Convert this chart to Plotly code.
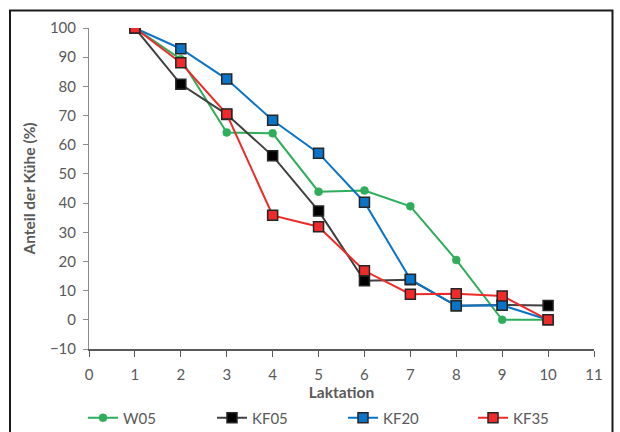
import plotly.graph_objects as go

laktation = [1, 2, 3, 4, 5, 6, 7, 8, 9, 10]
w05 = [100, 89.3, 64.2, 63.9, 43.9, 44.3, 38.9, 20.5, 0, 0]
kf05 = [100, 80.7, 70.4, 56.2, 37.3, 13.4, 13.7, 4.8, 5.1, 4.9]
kf20 = [100, 92.9, 82.5, 68.4, 57.1, 40.3, 13.9, 4.8, 5.0, 0]
kf35 = [100, 88.1, 70.5, 35.8, 31.9, 16.8, 8.8, 8.9, 8.2, 0]

W, H = 620, 432
L, R, T, B = 89, 26, 28, 83
pw, ph = W - L - R, H - T - B

fig = go.Figure()

square = dict(symbol="square", size=10, line=dict(color="#262626", width=1.5))

fig.add_trace(go.Scatter(
    x=laktation, y=w05, name="W05", mode="lines+markers", legend="legend",
    line=dict(color="#2EAD5B", width=2),
    marker=dict(symbol="circle", size=8, color="#2EAD5B",
                line=dict(color="#2EAD5B", width=0.5))))
fig.add_trace(go.Scatter(
    x=laktation, y=kf05, name="KF05", mode="lines+markers", legend="legend2",
    line=dict(color="#404040", width=2),
    marker=dict(color="#000000", **square)))
fig.add_trace(go.Scatter(
    x=laktation, y=kf20, name="KF20", mode="lines+markers", legend="legend3",
    line=dict(color="#0A74C8", width=2),
    marker=dict(color="#0A74C8", **square)))
fig.add_trace(go.Scatter(
    x=laktation, y=kf35, name="KF35", mode="lines+markers", legend="legend4",
    line=dict(color="#EE2A2A", width=2),
    marker=dict(color="#EE2A2A", **square)))

def px_x(p):
    return (p - L) / pw

def px_y(p):
    return (H - B - p) / ph

# outer frame around the whole chart
fig.add_shape(type="rect", xref="paper", yref="paper",
              x0=px_x(10), x1=px_x(612.5), y0=px_y(445), y1=px_y(10.5),
              line=dict(color="#1a1a1a", width=2), layer="below")

font = "Lato, 'Open Sans', sans-serif"
axcol = "#595959"

def legend_at(left_px):
    return dict(orientation="h", xref="container", yref="container",
                x=left_px / W, xanchor="left",
                y=1 - 418 / H, yanchor="middle",
                font=dict(size=15, color=axcol),
                bgcolor="rgba(0,0,0,0)", itemwidth=30)

fig.update_layout(
    width=W, height=H,
    margin=dict(l=L, r=R, t=T, b=B, autoexpand=False),
    paper_bgcolor="white", plot_bgcolor="white",
    font=dict(family=font, color=axcol, size=14),
    xaxis=dict(range=[0, 11], dtick=1, tick0=0, showgrid=False, zeroline=False,
               showline=True, linecolor="#595959", linewidth=1.5,
               ticks="outside", ticklen=6, tickcolor="#595959",
               tickfont=dict(size=15, color=axcol), automargin=True,
               ticklabelstandoff=5,
               title=dict(text="<b>Laktation</b>", font=dict(size=15.5, color=axcol),
                          standoff=6)),
    yaxis=dict(range=[-10, 100], dtick=10, tick0=0, showgrid=False, zeroline=False,
               showline=True, linecolor="#8c8c8c", linewidth=1,
               ticks="outside", ticklen=5, tickcolor="#8c8c8c",
               tickfont=dict(size=15, color=axcol), automargin=False,
               ticklabelstandoff=4,
               title=dict(text="<b>Anteil der Kühe (%)</b>", font=dict(size=15.5, color=axcol),
                          standoff=10)),
    showlegend=True,
    legend=legend_at(83),
    legend2=legend_at(212),
    legend3=legend_at(343),
    legend4=legend_at(473),
)

fig.write_html("out.html")
